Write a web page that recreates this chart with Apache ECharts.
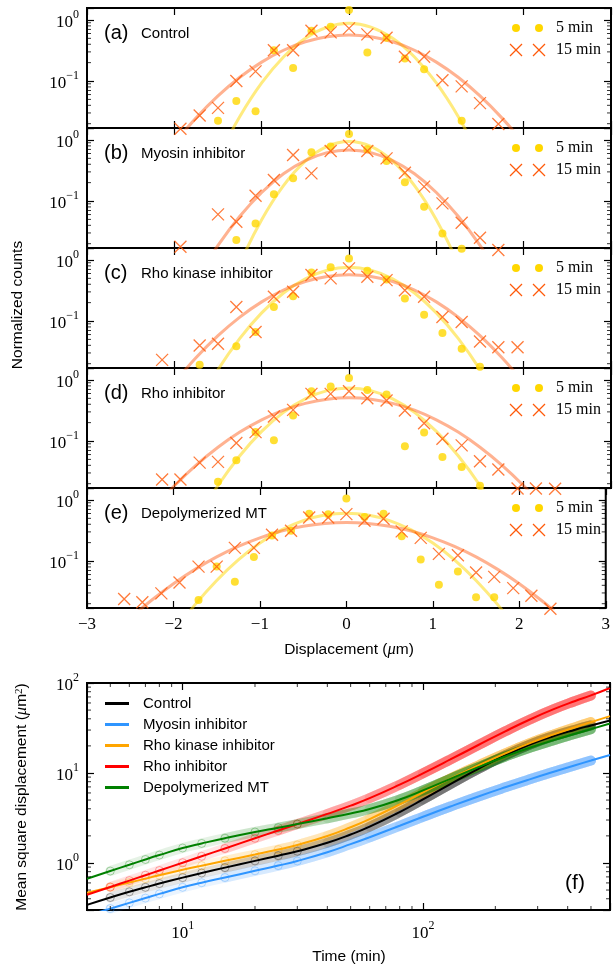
<!DOCTYPE html>
<html><head><meta charset="utf-8">
<script src="https://cdn.jsdelivr.net/npm/echarts@6/dist/echarts.min.js"></script>
<style>html,body{margin:0;padding:0;background:#fff}#c{width:613px;height:965px}</style>
</head><body><div id="c"></div>
<script>
// ================= DATA =================
// Displacement histograms (bin centres, micrometres)
const binCenters = [-2.57,-2.36,-2.14,-1.93,-1.71,-1.5,-1.29,-1.07,-0.86,-0.64,-0.43,-0.21,0,0.21,0.43,0.64,0.86,1.07,1.29,1.5,1.71,1.93,2.14,2.36,2.57];
const panelLetters = ['(a)','(b)','(c)','(d)','(e)'];
const panelNames = ['Control','Myosin inhibitor','Rho kinase inhibitor','Rho inhibitor','Depolymerized MT'];
const legendLabels = ['5 min','15 min'];

const countsA5  = [null,null,null,null,null,0.0224,0.047,0.032,0.32,0.164,0.667,0.776,1.46,0.293,0.511,0.233,0.156,null,0.0224,null,null,null,null,null,null];
const countsA15 = [null,null,null,0.0165,0.0272,0.0363,0.1,0.144,0.32,0.32,0.667,0.626,0.729,0.58,0.511,0.249,0.249,0.103,0.0817,0.0434,0.0198,null,null,null,null];
const countsB5  = [null,null,null,null,null,null,0.023,0.043,0.129,0.235,0.628,0.778,1.25,0.703,0.453,0.202,0.0807,0.0295,0.0165,null,null,null,null,null,null];
const countsB15 = [null,null,null,0.0178,null,0.0605,0.0458,0.122,0.221,0.568,0.284,0.66,0.807,0.66,0.5,0.291,0.172,0.0916,0.0441,0.0251,0.0158,null,null,null,null];
const countsC5  = [null,null,null,null,0.0193,null,0.0387,0.0659,0.17,0.255,0.626,0.757,1.06,0.667,0.48,0.233,0.127,0.0634,0.035,0.0179,null,null,null,null,null];
const countsC15 = [null,null,0.0231,null,0.0397,0.0423,0.17,0.0659,0.249,0.301,0.566,0.499,0.729,0.531,0.468,0.32,0.249,0.116,0.0964,0.0463,0.0372,0.0372,null,null,null];
const countsD5  = [null,null,null,null,null,0.0215,0.0484,0.14,0.1025,0.262,0.653,0.778,1.08,0.687,0.577,0.0818,0.138,0.0548,0.0377,0.0185,null,null,null,null,null];
const countsD15 = [null,null,0.0234,0.0234,0.0443,0.0455,0.0927,0.14,0.252,0.324,0.591,0.591,0.653,0.502,0.46,0.316,0.196,0.109,0.0849,0.0466,0.0341,0.0167,0.0167,0.0165,null];
const countsE5  = [null,null,null,null,0.023,0.081,0.0456,0.116,0.261,0.314,0.593,0.586,1.06,0.524,0.593,0.254,0.106,0.0408,0.0671,0.0254,0.0254,null,null,null,null];
const countsE15 = [0.0239,0.0211,0.0295,0.0445,0.081,0.081,0.164,0.164,0.27,0.314,0.517,0.517,0.586,0.456,0.492,0.306,0.239,0.131,0.124,0.0647,0.055,0.036,0.027,0.0165,null];

// Gaussian fit curves
const fitX = [-3,-2.75,-2.5,-2.25,-2,-1.75,-1.5,-1.25,-1,-0.75,-0.5,-0.25,0,0.25,0.5,0.75,1,1.25,1.5,1.75,2,2.25,2.5,2.75,3];
const fitA5  = [null,null,null,null,null,0.0009,0.0056,0.0262,0.0929,0.248,0.501,0.764,0.88,0.764,0.501,0.248,0.0929,0.0262,0.0056,0.0009,null,null,null,null,null];
const fitA15 = [null,null,null,0.00324,0.00957,0.0249,0.057,0.115,0.204,0.319,0.439,0.531,0.566,0.531,0.439,0.319,0.204,0.115,0.057,0.0249,0.00957,0.00324,null,null,null];
const fitB5  = [null,null,null,null,null,null,0.00124,0.00944,0.0494,0.179,0.45,0.782,0.94,0.782,0.45,0.179,0.0494,0.00944,0.00124,null,null,null,null,null,null];
const fitB15 = [null,null,null,null,0.00114,0.0051,0.0187,0.0562,0.138,0.279,0.459,0.621,0.686,0.621,0.459,0.279,0.138,0.0562,0.0187,0.0051,0.00114,null,null,null,null];
const fitC5  = [null,null,null,null,null,0.00396,0.016,0.0519,0.136,0.288,0.493,0.679,0.757,0.679,0.493,0.288,0.136,0.0519,0.016,0.00396,null,null,null,null,null];
const fitC15 = [null,null,null,0.0033,0.0097,0.0252,0.0575,0.116,0.206,0.322,0.443,0.536,0.571,0.536,0.443,0.322,0.206,0.116,0.0575,0.0252,0.0097,0.0033,null,null,null];
const fitD5  = [null,null,null,null,null,0.00495,0.0187,0.0575,0.144,0.295,0.491,0.668,0.74,0.668,0.491,0.295,0.144,0.0575,0.0187,0.00495,null,null,null,null,null];
const fitD15 = [null,null,0.00288,0.00769,0.0185,0.0403,0.0791,0.14,0.222,0.32,0.414,0.484,0.509,0.484,0.414,0.32,0.222,0.14,0.0791,0.0403,0.0185,0.00769,0.00288,null,null];
const fitE5  = [null,null,null,0.00202,0.0067,0.0193,0.0481,0.1045,0.197,0.323,0.459,0.566,0.608,0.566,0.459,0.323,0.197,0.1045,0.0481,0.0193,0.0067,0.00202,null,null,null];
const fitE15 = [0.00236,0.0054,0.0116,0.023,0.0425,0.073,0.117,0.174,0.24,0.31,0.371,0.413,0.429,0.413,0.371,0.31,0.24,0.174,0.117,0.073,0.0425,0.023,0.0116,0.0054,0.00236];

// Mean square displacement vs time (min)
const msdTimes     = [4,5,6,7,8,10,12,15,20,25,30,40,50,60,80,100,130,170,220,280,350,430,500,600];
const msdControl   = [0.342,0.413,0.478,0.536,0.59,0.687,0.773,0.887,1.054,1.205,1.349,1.675,2.07,2.529,3.673,5.082,7.534,11.12,15.74,20.8,25.7,30.27,33.73,38.28];
const msdMyosin    = [0.26,0.311,0.36,0.407,0.453,0.536,0.603,0.689,0.818,0.935,1.052,1.317,1.618,1.932,2.588,3.258,4.236,5.483,6.934,8.551,10.3,12.19,13.74,15.85];
const msdRhoKinase = [0.466,0.538,0.605,0.67,0.731,0.839,0.933,1.057,1.239,1.409,1.585,1.995,2.495,3.076,4.467,6.081,8.67,12.13,16.52,21.58,26.85,32.28,36.73,42.85];
const msdRho       = [0.443,0.541,0.637,0.731,0.824,1.007,1.186,1.449,1.879,2.296,2.704,3.508,4.335,5.248,7.413,9.908,14.13,20.46,29.04,39.54,51.17,63.1,72.78,88];
const msdDepoly    = [0.668,0.813,0.954,1.093,1.224,1.466,1.648,1.884,2.208,2.466,2.704,3.141,3.548,3.972,5.07,6.41,8.61,11.61,15.24,19.19,23.17,27.29,30.69,35.4];
const conditionNames = ['Control','Myosin inhibitor','Rho kinase inhibitor','Rho inhibitor','Depolymerized MT'];

// tick values
const topMinorY = [0.02,0.03,0.04,0.05,0.06,0.07,0.08,0.09,0.2,0.3,0.4,0.5,0.6,0.7,0.8,0.9];
const fMinorY = [0.4,0.5,0.6,0.7,0.8,0.9,2,3,4,5,6,7,8,9,20,30,40,50,60,70,80,90];
const fMinorX = [5,6,7,8,9,20,30,40,50,60,70,80,90,200,300,400,500];

// ================= CHART =================
const SERIF = 'Liberation Serif', SANS = 'Liberation Sans';
const PT = [8,128,248,368,488], PH = 120, GL = 87, GR = 2;
const FTOP = 683, FH = 227;
const YEL = '#FFD700', ORG = '#FF5A0A';
const condColors = ['#000000','#2f95ff','#ffa500','#ff0000','#008000'];
const condData = [msdControl, msdMyosin, msdRhoKinase, msdRho, msdDepoly];
const counts = [[countsA5,countsA15],[countsB5,countsB15],[countsC5,countsC15],[countsD5,countsD15],[countsE5,countsE15]];
const fits = [[fitA5,fitA15],[fitB5,fitB15],[fitC5,fitC15],[fitD5,fitD15],[fitE5,fitE15]];
const bandStarts = [5,15,25,40,60,80,100];

function pairs(xs, ys){ const out=[]; for(let i=0;i<xs.length;i++){ if(ys[i]!=null) out.push([xs[i], ys[i]]); } return out; }
function rgba(hex,a){ const n=parseInt(hex.slice(1),16); return 'rgba('+((n>>16)&255)+','+((n>>8)&255)+','+(n&255)+','+a+')'; }
function powLabel(v){ const e=Math.log10(v); const r=Math.round(e); if(Math.abs(e-r)>1e-6) return ''; return '{b|10}{s|'+(r<0?'\u2212'+(-r):r)+'}'; }
function minusFmt(v){ return v<0 ? '\u2212'+(-v) : String(v); }
const supRich = {
  b:{fontFamily:SERIF,fontSize:17,lineHeight:22,verticalAlign:'bottom',color:'#000'},
  s:{fontFamily:SERIF,fontSize:12,lineHeight:12,verticalAlign:'top',color:'#000'}
};
const tickStyle = {show:true, inside:true, length:7, lineStyle:{color:'#000', width:1.2}};
const noLine = {show:false, onZero:false};

const grids=[], xAxes=[], yAxes=[], series=[], graphics=[];
for(let i=0;i<5;i++){
  grids.push({left:GL,right:GR,top:PT[i],height:PH,show:true,borderColor:'#000',borderWidth:2,backgroundColor:'transparent'});
  const xb = {gridIndex:i,type:'value',min:-3,max:3,interval:1,axisLine:noLine,axisTick:tickStyle,splitLine:{show:false}};
  xAxes.push(Object.assign({},xb,{position:'bottom',axisLabel:{show:i===4,formatter:minusFmt,fontFamily:SERIF,fontSize:17,color:'#000',margin:8}}));
  xAxes.push(Object.assign({},xb,{position:'top',axisLabel:{show:false}}));
  const yb = {gridIndex:i,type:'log',min:0.017,max:1.57,axisLine:noLine,axisTick:tickStyle,splitLine:{show:false}};
  yAxes.push(Object.assign({},yb,{position:'left',axisLabel:{formatter:powLabel,rich:supRich,margin:8}}));
  yAxes.push(Object.assign({},yb,{position:'right',axisLabel:{show:false}}));
}
grids.push({left:GL,right:GR,top:FTOP,height:FH,show:true,borderColor:'#000',borderWidth:2,backgroundColor:'transparent'});
const fxb = {gridIndex:5,type:'log',min:4,max:600,axisLine:noLine,axisTick:tickStyle,splitLine:{show:false}};
xAxes.push(Object.assign({},fxb,{position:'bottom',axisLabel:{formatter:powLabel,rich:supRich,margin:10}}));
xAxes.push(Object.assign({},fxb,{position:'top',axisLabel:{show:false}}));
const fyb = {gridIndex:5,type:'log',min:0.3,max:100,axisLine:noLine,axisTick:tickStyle,splitLine:{show:false}};
yAxes.push(Object.assign({},fyb,{position:'left',axisLabel:{formatter:powLabel,rich:supRich,margin:8}}));
yAxes.push(Object.assign({},fyb,{position:'right',axisLabel:{show:false}}));

// minor tick marks drawn as tiny rectangles positioned by the axes
function tickSeries(xi, yi, data, size, offset){
  return {type:'scatter',xAxisIndex:xi,yAxisIndex:yi,data:data,symbol:'rect',symbolSize:size,symbolOffset:offset,clip:false,silent:true,itemStyle:{color:'#000'},z:6};
}

for(let i=0;i<5;i++){
  const xi=2*i, yi=2*i;
  series.push({type:'line',xAxisIndex:xi,yAxisIndex:yi,data:pairs(fitX,fits[i][0]),smooth:0.4,showSymbol:false,silent:true,lineStyle:{color:'rgba(255,215,0,0.5)',width:3},z:2});
  series.push({type:'line',xAxisIndex:xi,yAxisIndex:yi,data:pairs(fitX,fits[i][1]),smooth:0.4,showSymbol:false,silent:true,lineStyle:{color:'rgba(255,85,10,0.45)',width:3},z:2});
  series.push({type:'scatter',xAxisIndex:xi,yAxisIndex:yi,data:pairs(binCenters,counts[i][0]),symbol:'circle',symbolSize:8,clip:false,silent:true,itemStyle:{color:YEL},z:3});
  series.push({type:'scatter',xAxisIndex:xi,yAxisIndex:yi,data:pairs(binCenters,counts[i][1]),symbol:'path://M0,0L10,10M10,0L0,10',symbolSize:12,clip:false,silent:true,itemStyle:{color:'none',borderColor:ORG,borderWidth:1.3},z:4});
  series.push(tickSeries(xi,yi,topMinorY.map(v=>[-3,v]),[4,1],[2,0]));
  series.push(tickSeries(xi,yi,topMinorY.map(v=>[3,v]),[4,1],[-2,0]));

  const t = PT[i];
  graphics.push({type:'text',x:104,y:t+25,style:{text:panelLetters[i],fontFamily:SANS,fontSize:20,fill:'#000',verticalAlign:'middle'}});
  graphics.push({type:'text',x:141,y:t+26,style:{text:panelNames[i],fontFamily:SANS,fontSize:15,fill:'#000',verticalAlign:'middle'}});
  [516,539].forEach(cx=>{
    graphics.push({type:'circle',shape:{cx:cx,cy:t+20,r:4},style:{fill:YEL}});
    graphics.push({type:'line',shape:{x1:cx-6,y1:t+36,x2:cx+6,y2:t+48},style:{stroke:ORG,lineWidth:1.3}});
    graphics.push({type:'line',shape:{x1:cx-6,y1:t+48,x2:cx+6,y2:t+36},style:{stroke:ORG,lineWidth:1.3}});
  });
  graphics.push({type:'text',x:556,y:t+20,style:{text:legendLabels[0],fontFamily:SERIF,fontSize:16,fill:'#000',verticalAlign:'middle'}});
  graphics.push({type:'text',x:556,y:t+42,style:{text:legendLabels[1],fontFamily:SERIF,fontSize:16,fill:'#000',verticalAlign:'middle'}});
}

// MSD panel
for(let c=0;c<5;c++){
  const col = condColors[c], v = condData[c];
  const early=[];
  for(let k=0;k<msdTimes.length;k++){
    const t = msdTimes[k];
    if(t>=5 && t<=30) early.push([t, v[k]]);
  }
  series.push({name:conditionNames[c]+' data',type:'scatter',xAxisIndex:10,yAxisIndex:10,data:early,symbol:'circle',symbolSize:8,silent:true,itemStyle:{color:'transparent',borderColor:rgba(col,0.4),borderWidth:1},z:2});
  bandStarts.forEach((s,bi)=>{
    const seg=[];
    for(let k=0;k<msdTimes.length;k++){ const t=msdTimes[k]; if(t>=s && t<=500) seg.push([t, v[k]]); }
    series.push({name:conditionNames[c]+' band'+bi,type:'line',xAxisIndex:10,yAxisIndex:10,data:seg,smooth:true,showSymbol:false,silent:true,lineStyle:{color:rgba(col,0.1),width:10,cap:'round'},z:2});
  });
  series.push({name:conditionNames[c],type:'line',xAxisIndex:10,yAxisIndex:10,data:msdTimes.map((t,k)=>[t,v[k]]),smooth:true,showSymbol:false,silent:true,itemStyle:{color:col},lineStyle:{color:col,width:2},z:3});
}
series.push(tickSeries(10,10,fMinorY.map(v=>[4,v]),[4,1],[2,0]));
series.push(tickSeries(10,10,fMinorY.map(v=>[600,v]),[4,1],[-2,0]));
series.push(tickSeries(10,10,fMinorX.map(v=>[v,0.3]),[1,4],[0,-2]));
series.push(tickSeries(10,10,fMinorX.map(v=>[v,100]),[1,4],[0,2]));

// axis titles and (f)
graphics.push({type:'text',x:18,y:305,rotation:Math.PI/2,style:{text:'Normalized counts',fontFamily:SANS,fontSize:15.5,fill:'#000',align:'center',verticalAlign:'middle'}});
graphics.push({type:'text',x:349,y:650,style:{text:'Displacement ({m|\u03bc}m)',fontFamily:SANS,fontSize:15.5,fill:'#000',align:'center',verticalAlign:'middle',rich:{m:{fontFamily:SERIF,fontStyle:'italic',fontSize:16.5}}}});
graphics.push({type:'text',x:22,y:797,rotation:Math.PI/2,style:{text:'Mean square displacement ({m|\u03bc}m{s|2})',fontFamily:SANS,fontSize:15.5,fill:'#000',align:'center',verticalAlign:'middle',rich:{m:{fontFamily:SERIF,fontStyle:'italic',fontSize:16.5},s:{fontFamily:SERIF,fontSize:11,verticalAlign:'top',lineHeight:11}}}});
graphics.push({type:'text',x:349,y:957,style:{text:'Time (min)',fontFamily:SANS,fontSize:15.5,fill:'#000',align:'center',verticalAlign:'middle'}});
graphics.push({type:'text',x:575,y:883,style:{text:'(f)',fontFamily:SANS,fontSize:21,fill:'#000',align:'center',verticalAlign:'middle'}});

const chart = echarts.init(document.getElementById('c'), null, {renderer:'canvas', width:613, height:965});
chart.setOption({
  animation:false,
  backgroundColor:'#ffffff',
  grid:grids, xAxis:xAxes, yAxis:yAxes,
  legend:{data:conditionNames,orient:'vertical',left:100,top:691,icon:'rect',itemWidth:24,itemHeight:3,itemGap:6,selectedMode:false,
    textStyle:{fontFamily:SANS,fontSize:15,color:'#000',padding:[0,0,0,9]}},
  series:series,
  graphic:graphics
});
</script></body></html>
